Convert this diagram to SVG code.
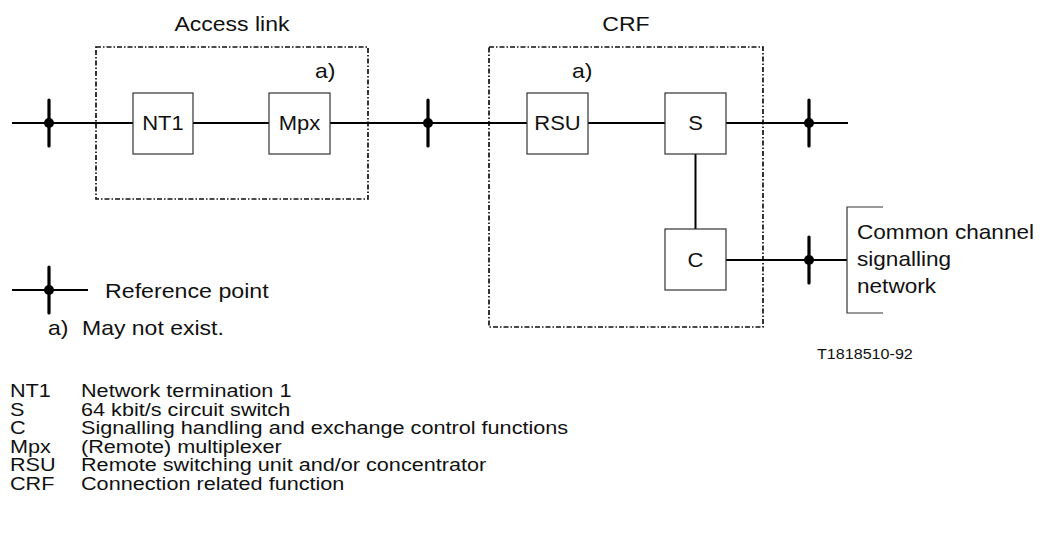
<svg xmlns="http://www.w3.org/2000/svg" width="1042" height="533" viewBox="0 0 1042 533">
<style>
text{font-family:"Liberation Sans",Arial,sans-serif;font-size:20px;fill:#111}
.c{text-anchor:middle}
.box{fill:#fff;stroke:#333;stroke-width:1.2}
.grp{fill:none;stroke:#111;stroke-width:1.7;stroke-dasharray:5 2 1.5 2}
.ln{stroke:#000;stroke-width:2;fill:none}
.rp{stroke:#000;stroke-width:3.2;stroke-linecap:round}
.leg text{font-size:18.5px}
</style>
<defs>
<g id="refpt"><line class="rp" x1="0" y1="-23" x2="0" y2="23"/><circle cx="0" cy="0" r="5" fill="#000"/></g>
</defs>
<rect width="1042" height="533" fill="#fff"/>
<g id="access-link">
<rect class="grp" x="96" y="47" width="272" height="152"/>
<text class="c" transform="translate(232 31) scale(1.15 1)">Access link</text>
<text transform="translate(315 78) scale(1.15 1)">a)</text>
</g>
<g id="crf">
<rect class="grp" x="489" y="47" width="274" height="280"/>
<text class="c" transform="translate(626 31) scale(1.15 1)">CRF</text>
<text transform="translate(572 78) scale(1.15 1)">a)</text>
</g>
<g id="connectors">
<line class="ln" x1="12" y1="123" x2="133" y2="123"/>
<line class="ln" x1="193" y1="123" x2="269" y2="123"/>
<line class="ln" x1="330" y1="123" x2="527" y2="123"/>
<line class="ln" x1="588" y1="123" x2="665" y2="123"/>
<line class="ln" x1="726" y1="123" x2="848" y2="123"/>
<line class="ln" x1="695.5" y1="154" x2="695.5" y2="229"/>
<line class="ln" x1="726" y1="260" x2="847" y2="260"/>
<use href="#refpt" x="49" y="123"/>
<use href="#refpt" x="428" y="123"/>
<use href="#refpt" x="809" y="123"/>
<use href="#refpt" x="809" y="260"/>
</g>
<g id="NT1"><rect class="box" x="133" y="93" width="60" height="61"/><text class="c" transform="translate(163 130) scale(1.1 1)">NT1</text></g>
<g id="Mpx"><rect class="box" x="269" y="93" width="61" height="61"/><text class="c" transform="translate(299.5 130) scale(1.1 1)">Mpx</text></g>
<g id="RSU"><rect class="box" x="527" y="93" width="61" height="61"/><text class="c" transform="translate(557.5 130) scale(1.1 1)">RSU</text></g>
<g id="S"><rect class="box" x="665" y="93" width="61" height="61"/><text class="c" transform="translate(695.5 130) scale(1.1 1)">S</text></g>
<g id="C"><rect class="box" x="665" y="229" width="61" height="61"/><text class="c" transform="translate(695.5 267) scale(1.1 1)">C</text></g>
<g id="ccsn">
<path d="M883 207 H847 V313 H883" fill="none" stroke="#333" stroke-width="1.2"/>
<text transform="translate(857 239) scale(1.13 1)">Common channel</text>
<text transform="translate(857 266) scale(1.13 1)">signalling</text>
<text transform="translate(857 293) scale(1.13 1)">network</text>
</g>
<g id="legend">
<line class="ln" x1="12" y1="290" x2="88" y2="290"/>
<use href="#refpt" x="49" y="290"/>
<text transform="translate(105 298) scale(1.16 1)">Reference point</text>
<text transform="translate(48 335) scale(1.15 1)">a)</text>
<text transform="translate(82 335) scale(1.15 1)">May not exist.</text>
<text transform="translate(817 359) scale(1.04 1)" style="font-size:15.5px">T1818510-92</text>
<g class="leg">
<text transform="translate(10 397) scale(1.17 1)">NT1</text><text transform="translate(81 397) scale(1.17 1)">Network termination 1</text>
<text transform="translate(10 415.5) scale(1.17 1)">S</text><text transform="translate(81 415.5) scale(1.17 1)">64 kbit/s circuit switch</text>
<text transform="translate(10 434) scale(1.17 1)">C</text><text transform="translate(81 434) scale(1.17 1)">Signalling handling and exchange control functions</text>
<text transform="translate(10 452.5) scale(1.17 1)">Mpx</text><text transform="translate(81 452.5) scale(1.17 1)">(Remote) multiplexer</text>
<text transform="translate(10 471) scale(1.17 1)">RSU</text><text transform="translate(81 471) scale(1.17 1)">Remote switching unit and/or concentrator</text>
<text transform="translate(10 489.5) scale(1.17 1)">CRF</text><text transform="translate(81 489.5) scale(1.17 1)">Connection related function</text>
</g>
</g>
</svg>
